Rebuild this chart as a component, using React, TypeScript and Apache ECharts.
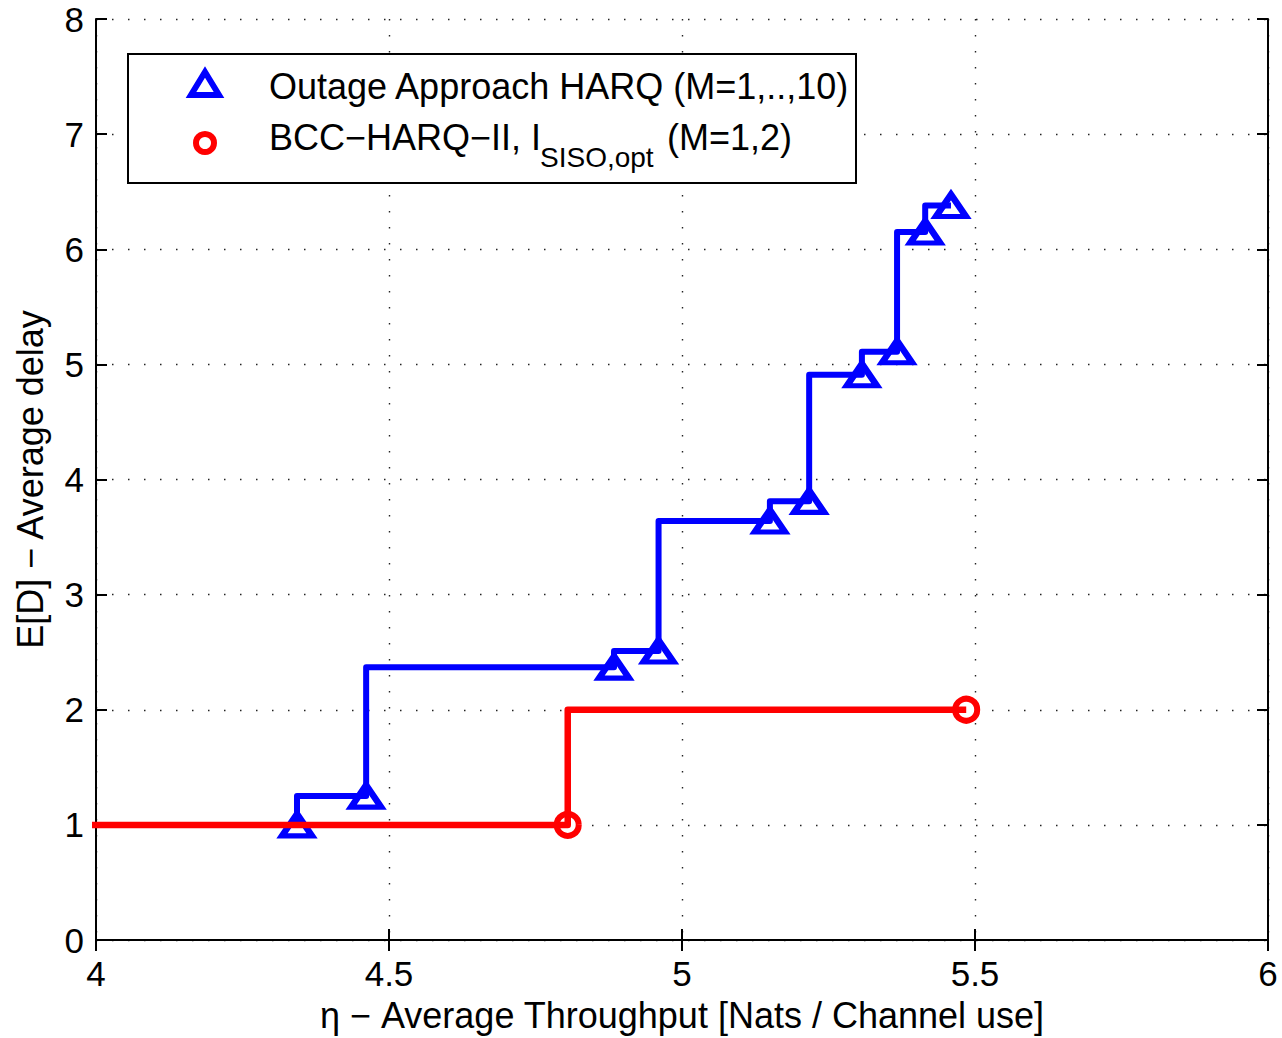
import React, { useEffect, useRef } from "react";
import * as echarts from "echarts";

// ---- Data ----
const outageX = [4.343, 4.461, 4.884, 4.96, 5.15, 5.217, 5.307, 5.367, 5.415, 5.459];
const outageY = [1.0, 1.25, 2.37, 2.51, 3.64, 3.81, 4.91, 5.11, 6.15, 6.38];
const bccX = [3.6, 4.805, 5.485];
const bccY = [1, 1, 2];
const bccMarkerShown = [false, true, true];

const xTicks = { min: 4, max: 6, interval: 0.5 };
const yTicks = { min: 0, max: 8, interval: 1 };

const xTitle = "η − Average Throughput [Nats / Channel use]";
const yTitle = "E[D] − Average delay";
const legend1 = "Outage Approach HARQ (M=1,..,10)";
const legend2Main = "BCC−HARQ−II, I";
const legend2Sub = "SISO,opt";
const legend2Tail = "(M=1,2)";

const FONT = "'Liberation Sans', Arial, Helvetica, sans-serif";
const BLUE = "#0000ff";
const RED = "#ff0000";

export default function App() {
  const ref = useRef<HTMLDivElement>(null);
  useEffect(() => {
    document.body.style.margin = "0";
    if (!ref.current) return;
    const chart = echarts.init(ref.current, undefined, { renderer: "svg" });

    const axisLine = { show: true, lineStyle: { color: "#000", width: 2 } };
    const axisTick = { show: true, inside: true, length: 11, lineStyle: { color: "#000", width: 2 } };
    const gridLine = { show: true, lineStyle: { color: "#222", width: 1.4, type: [1.5, 14.5] } };

    const option: any = {
      animation: false,
      backgroundColor: "#fff",
      grid: { left: 96, top: 19, right: 14, bottom: 96, containLabel: false },
      xAxis: [
        {
          type: "value",
          position: "bottom",
          min: xTicks.min,
          max: xTicks.max,
          interval: xTicks.interval,
          axisLine,
          axisTick,
          axisLabel: { fontSize: 35, color: "#000", margin: 16, fontFamily: FONT },
          splitLine: gridLine,
          name: xTitle,
          nameLocation: "middle",
          nameGap: 57,
          nameTextStyle: { fontSize: 36, color: "#000", fontFamily: FONT },
        },
        {
          type: "value",
          position: "top",
          min: xTicks.min,
          max: xTicks.max,
          interval: xTicks.interval,
          axisLine,
          axisTick,
          axisLabel: { show: false },
          splitLine: { show: false },
        },
      ],
      yAxis: [
        {
          type: "value",
          position: "left",
          min: yTicks.min,
          max: yTicks.max,
          interval: yTicks.interval,
          axisLine,
          axisTick,
          axisLabel: { fontSize: 35, color: "#000", margin: 12, fontFamily: FONT },
          splitLine: gridLine,
          name: yTitle,
          nameLocation: "middle",
          nameRotate: 90,
          nameGap: 48,
          nameTextStyle: { fontSize: 36, color: "#000", fontFamily: FONT },
        },
        {
          type: "value",
          position: "right",
          min: yTicks.min,
          max: yTicks.max,
          interval: yTicks.interval,
          axisLine,
          axisTick,
          axisLabel: { show: false },
          splitLine: { show: false },
        },
      ],
      series: [
        {
          name: legend1,
          type: "line",
          step: "start",
          xAxisIndex: 0,
          yAxisIndex: 0,
          data: outageX.map((x, i) => [x, outageY[i]]),
          symbol: "triangle",
          symbolSize: [30, 22],
          itemStyle: { color: "rgba(0,0,0,0)", borderColor: BLUE, borderWidth: 6 },
          lineStyle: { color: BLUE, width: 6, join: "round" },
          emphasis: { disabled: true },
          z: 2,
        },
        {
          name: "BCC-HARQ-II",
          type: "line",
          step: "start",
          xAxisIndex: 0,
          yAxisIndex: 0,
          data: bccX.map((x, i) =>
            bccMarkerShown[i] ? { value: [x, bccY[i]] } : { value: [x, bccY[i]], symbol: "none" }
          ),
          symbol: "circle",
          symbolSize: 22,
          itemStyle: { color: "rgba(0,0,0,0)", borderColor: RED, borderWidth: 6 },
          lineStyle: { color: RED, width: 6.5, join: "round" },
          emphasis: { disabled: true },
          z: 3,
        },
      ],
      graphic: [
        {
          type: "rect",
          z: 100,
          shape: { x: 128, y: 54, width: 728, height: 129 },
          style: { fill: "#fff", stroke: "#000", lineWidth: 2 },
        },
        {
          type: "polygon",
          z: 101,
          shape: { points: [[205, 72], [219, 95], [191, 95]] },
          style: { fill: "none", stroke: BLUE, lineWidth: 6 },
        },
        {
          type: "circle",
          z: 101,
          shape: { cx: 205, cy: 143, r: 9 },
          style: { fill: "none", stroke: RED, lineWidth: 6 },
        },
        {
          type: "text",
          z: 101,
          x: 269,
          y: 86,
          style: { text: legend1, fontSize: 36, fontFamily: FONT, fill: "#000", verticalAlign: "middle", align: "left" },
        },
        {
          type: "text",
          z: 101,
          x: 269,
          y: 137,
          style: { text: legend2Main, fontSize: 36, fontFamily: FONT, fill: "#000", verticalAlign: "middle", align: "left" },
        },
        {
          type: "text",
          z: 101,
          x: 540,
          y: 157,
          style: { text: legend2Sub, fontSize: 28, fontFamily: FONT, fill: "#000", verticalAlign: "middle", align: "left" },
        },
        {
          type: "text",
          z: 101,
          x: 667,
          y: 137,
          style: { text: legend2Tail, fontSize: 36, fontFamily: FONT, fill: "#000", verticalAlign: "middle", align: "left" },
        },
      ],
    };
    chart.setOption(option);
    return () => chart.dispose();
  }, []);
  return <div ref={ref} style={{ width: 1282, height: 1038 }} />;
}
